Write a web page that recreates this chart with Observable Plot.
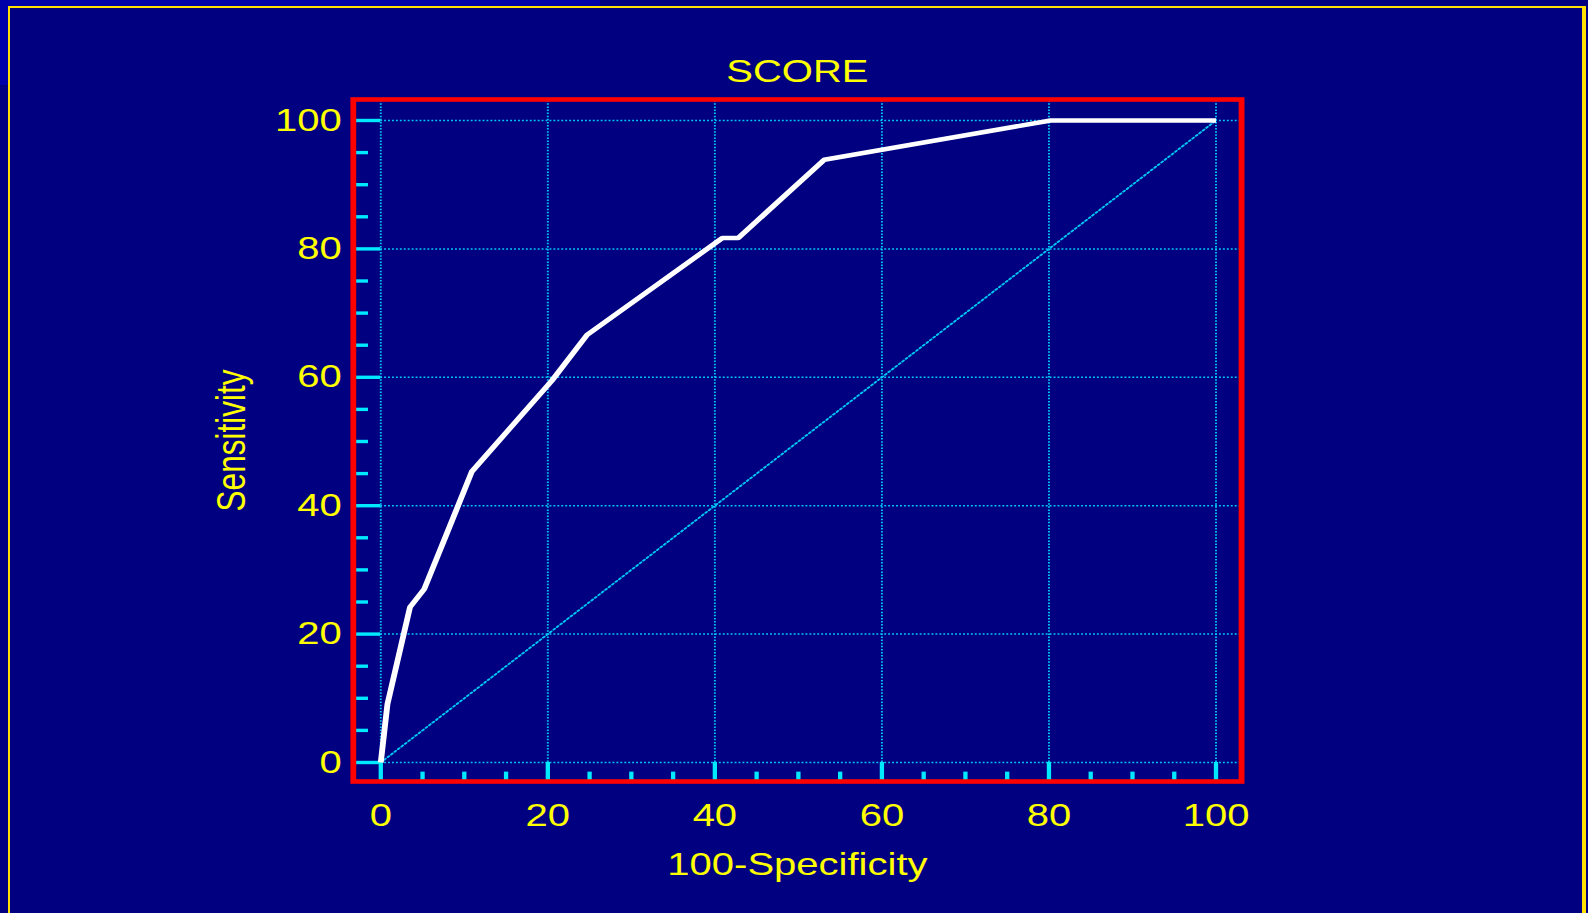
<!DOCTYPE html>
<html>
<head>
<meta charset="utf-8">
<script src="https://cdn.jsdelivr.net/npm/d3@7"></script>
<script src="https://cdn.jsdelivr.net/npm/@observablehq/plot@0.6"></script>
<style>
  html, body { margin: 0; padding: 0; background: #000080; overflow: hidden; }
  #page { position: relative; width: 1588px; height: 913px; background: #000080; overflow: hidden; }
  #topstrip { position: absolute; left: 0; top: 0; width: 600px; height: 6px; background: #0000a8; z-index: 0; }
  #leftstrip { position: absolute; left: 0; top: 0; width: 8px; height: 85px; background: #0000a8; z-index: 0; }
  #chart { position: absolute; left: 0; top: 0; transform-origin: 0 0; z-index: 1; }
  #border { position: absolute; left: 8px; top: 6px; width: 1572px; height: 960px; z-index: 2;
            border-left: 2px solid #ffe000; border-top: 2px solid #ffe000; border-right: 4px solid #ffe000; }
</style>
</head>
<body>
<div id="page">
  <div id="topstrip"></div>
  <div id="leftstrip"></div>
  <div id="chart"></div>
  <div id="border"></div>
</div>
<script>
// ---- data ----
const title = "SCORE";
const xLabel = "100-Specificity";
const yLabel = "Sensitivity";
const fpr  = [0, 0.8, 3.5, 5.2, 8.2, 10.9, 20.5, 24.7, 40.9, 42.8, 53.1, 80.2, 100];
const sens = [0, 9.1, 24.2, 27.0, 36.6, 45.3, 59.5, 66.6, 81.7, 81.7, 93.9, 100, 100];
const majorTicks = [0, 20, 40, 60, 80, 100];
const minorTicks = [5, 10, 15, 25, 30, 35, 45, 50, 55, 65, 70, 75, 85, 90, 95];
const diagonal = [0, 100];

// ---- layout ----
const stretch = 1.2704;           // horizontal stretch of the original picture
const W = 1588 / stretch, H = 913;
const xDom = [-3.29, 103.06];
const yDom = [-2.96, 103.27];
const font = "'Liberation Sans', Arial, sans-serif";
const fs = 31.5;
const yellow = "#ffff00";
const tickColor = "#00eaff";
const gridColor = "#00c8f5";
const dots = "1.5,1.6";

const roc = fpr.map((f, i) => ({fpr: f, sens: sens[i]}));

const chart = Plot.plot({
  width: W,
  height: H,
  marginLeft: 277.6,
  marginRight: W - 976.8,
  marginTop: 99,
  marginBottom: H - 781,
  style: {background: "none", fontFamily: font, overflow: "visible"},
  x: {domain: xDom, axis: null},
  y: {domain: yDom, axis: null},
  marks: [
    // dotted grid
    Plot.ruleX(majorTicks, {x: d => d, y1: 0, y2: yDom[1], stroke: gridColor, strokeWidth: 1.5, strokeDasharray: dots}),
    Plot.ruleY(majorTicks, {y: d => d, x1: 0, x2: xDom[1], stroke: gridColor, strokeWidth: 1.5, strokeDasharray: dots}),
    // diagonal reference
    Plot.line(diagonal, {x: d => d, y: d => d, stroke: gridColor, strokeWidth: 1.7, strokeDasharray: "1.6,2.2"}),
    // ticks
    Plot.ruleY(majorTicks, {y: d => d, x1: xDom[0], x2: 0, stroke: tickColor, strokeWidth: 3.4}),
    Plot.ruleY(minorTicks, {y: d => d, x1: xDom[0], x2: -1.45, stroke: tickColor, strokeWidth: 3.4}),
    Plot.ruleX(majorTicks, {x: d => d, y1: yDom[0], y2: 0, stroke: tickColor, strokeWidth: 3.4}),
    Plot.ruleX(minorTicks, {x: d => d, y1: yDom[0], y2: -1.5, stroke: tickColor, strokeWidth: 3.4}),
    // ROC curve
    Plot.line(roc, {x: "fpr", y: "sens", stroke: "#ffffff", strokeWidth: 4.6, strokeLinejoin: "round", strokeLinecap: "butt"}),
    // frame
    Plot.frame({stroke: "#ff0000", strokeWidth: 4.6}),
    // tick labels
    Plot.text(majorTicks, {y: d => d, text: d => String(d), frameAnchor: "left", textAnchor: "end", dx: -9,
      fill: yellow, fontSize: fs, lineAnchor: "middle"}),
    Plot.text(majorTicks, {x: d => d, text: d => String(d), frameAnchor: "bottom", dy: 34.5,
      fill: yellow, fontSize: fs, lineAnchor: "middle"}),
    // titles
    Plot.text([title], {text: d => d, frameAnchor: "top", dy: -28, fill: yellow, fontSize: fs, lineAnchor: "middle"}),
    Plot.text([xLabel], {text: d => d, frameAnchor: "bottom", dy: 83, fill: yellow, fontSize: fs, lineAnchor: "middle"}),
    Plot.text([yLabel], {text: d => d, frameAnchor: "left", dx: -95.7, rotate: -90, textAnchor: "middle",
      fill: yellow, fontSize: fs, lineAnchor: "middle"})
  ]
});

const holder = document.getElementById("chart");
holder.style.transform = `scaleX(${stretch})`;
holder.appendChild(chart);
</script>
</body>
</html>
